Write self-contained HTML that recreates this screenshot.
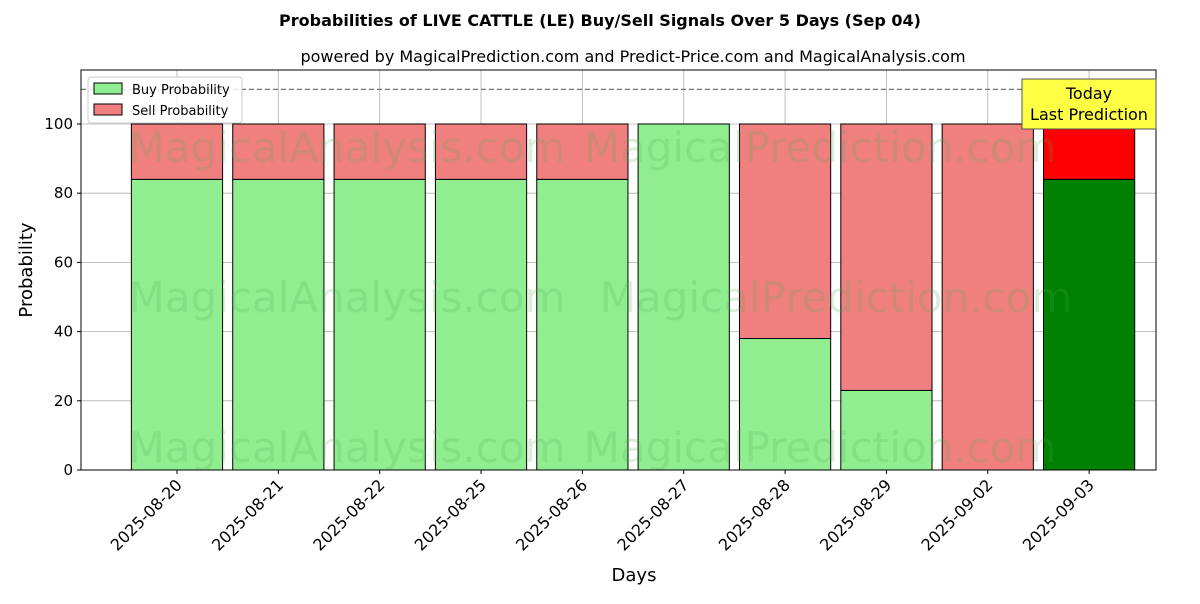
<!DOCTYPE html>
<html><head><meta charset="utf-8">
<style>
body{margin:0;background:#fff;font-family:"DejaVu Sans","Liberation Sans",sans-serif;}
svg text{font-family:"DejaVu Sans","Liberation Sans",sans-serif;}
</style></head>
<body>
<svg id="chart" width="1200" height="600" xmlns="http://www.w3.org/2000/svg">
<text x="600" y="26" text-anchor="middle" font-size="16" font-weight="bold">Probabilities of LIVE CATTLE (LE) Buy/Sell Signals Over 5 Days (Sep 04)</text>
<text x="633" y="62" text-anchor="middle" font-size="16">powered by MagicalPrediction.com and Predict-Price.com and MagicalAnalysis.com</text>
<g id="grid"></g>
<g id="bars"></g>
<g id="wm" fill="#5a5" opacity="0.2" font-size="42">
<text x="347" y="162" text-anchor="middle">MagicalAnalysis.com</text>
<text x="820" y="162" text-anchor="middle">MagicalPrediction.com</text>
<text x="347" y="312" text-anchor="middle">MagicalAnalysis.com</text>
<text x="836" y="312" text-anchor="middle">MagicalPrediction.com</text>
<text x="347" y="462" text-anchor="middle">MagicalAnalysis.com</text>
<text x="820" y="462" text-anchor="middle">MagicalPrediction.com</text>
</g>
<line x1="81" x2="1156" id="refline" stroke="#777" stroke-dasharray="5,3" stroke-width="1.2"/>
<rect x="81" y="70" width="1075" height="400" fill="none" stroke="#000" stroke-width="1"/>
<g id="axes"></g>
<g>
<rect x="1022" y="79" width="134" height="50" fill="#ffff44" stroke="#555" stroke-width="1"/>
<text x="1089" y="99" text-anchor="middle" font-size="16">Today</text>
<text x="1089" y="120" text-anchor="middle" font-size="16">Last Prediction</text>
</g>
<g>
<rect x="88" y="77" width="154" height="46" rx="3" fill="#fff" fill-opacity="0.8" stroke="#ccc"/>
<rect x="94" y="83" width="28" height="11" fill="#90ee90" stroke="#000"/>
<text x="132" y="94" font-size="13">Buy Probability</text>
<rect x="94" y="104" width="28" height="11" fill="#f08080" stroke="#000"/>
<text x="132" y="115" font-size="13">Sell Probability</text>
</g>
<text x="634" y="581" text-anchor="middle" font-size="18">Days</text>
<text x="32" y="270" text-anchor="middle" font-size="18" transform="rotate(-90 32 270)">Probability</text>
</svg>
<script>
const categories=["2025-08-20","2025-08-21","2025-08-22","2025-08-25","2025-08-26","2025-08-27","2025-08-28","2025-08-29","2025-09-02","2025-09-03"];
const buyValues=[84,84,84,84,84,100,38,23,0,84];
const sellValues=[16,16,16,16,16,0,62,77,100,16];
const yTicks=[0,20,40,60,80,100];
const refValue=110;
const NS="http://www.w3.org/2000/svg";
const L=81,R=1156,T=70,B=470,yMax=115.6;
const xMin=-0.947,xMax=9.66,barW=0.9;
function xs(v){return L+(v-xMin)/(xMax-xMin)*(R-L);}
function ys(v){return B-v/yMax*(B-T);}
function mk(tag,attrs,parent){const e=document.createElementNS(NS,tag);for(const k in attrs)e.setAttribute(k,attrs[k]);parent.appendChild(e);return e;}
const grid=document.getElementById('grid'),bars=document.getElementById('bars'),axes=document.getElementById('axes');
yTicks.forEach(t=>{
  const y=ys(t);
  const g=mk('line',{x1:L,x2:R,y1:y,y2:y,stroke:'#b0b0b0','stroke-width':0.8},grid);
  
  
  mk('line',{x1:L-4,x2:L,y1:y,y2:y,stroke:'#000'},axes);
  const tx=mk('text',{x:L-8,y:y+5,'text-anchor':'end','font-size':15},axes);
  tx.textContent=t;
  
  
});
categories.forEach((c,i)=>{
  const cx=xs(i);
  const g=mk('line',{x1:cx,x2:cx,y1:T,y2:B,stroke:'#b0b0b0','stroke-width':0.8},grid);
  
  
  const x0=xs(i-barW/2),w=xs(i+barW/2)-x0;
  const last=i===categories.length-1;
  const b=mk('rect',{x:x0,y:ys(buyValues[i]),width:w,height:ys(0)-ys(buyValues[i]),fill:last?'#008000':'#90ee90',stroke:'#000','stroke-width':1},bars);
  
  
  const s=mk('rect',{x:x0,y:ys(buyValues[i]+sellValues[i]),width:w,height:ys(buyValues[i])-ys(buyValues[i]+sellValues[i]),fill:last?'#ff0000':'#f08080',stroke:'#000','stroke-width':1},bars);
  
  
  mk('line',{x1:cx,x2:cx,y1:B,y2:B+4,stroke:'#000'},axes);
  const tx=mk('text',{x:cx+6,y:B+16,'text-anchor':'end','font-size':16,transform:`rotate(-45 ${cx+6} ${B+16})`},axes);
  tx.textContent=c;
  
  
});
const rl=document.getElementById('refline');rl.setAttribute('y1',ys(refValue));rl.setAttribute('y2',ys(refValue));
</script>
</body></html>
